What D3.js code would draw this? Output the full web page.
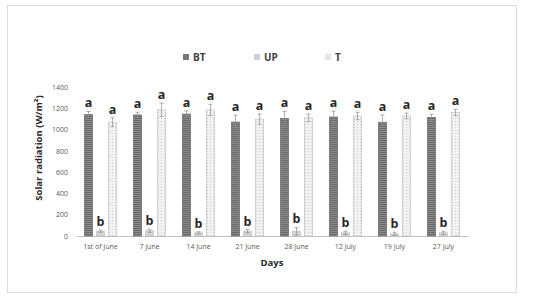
<!DOCTYPE html>
<html>
<head>
<meta charset="utf-8">
<script src="https://cdn.jsdelivr.net/npm/d3@7"></script>
<style>
  body { margin: 0; background: #fff; }
  svg text { font-family: "Open Sans", "Liberation Sans", sans-serif; }
</style>
</head>
<body>
<svg id="chart" width="550" height="299"></svg>
<script>
// chart data
var days = ['1st of June', '7 June', '14 June', '21 June', '28 June', '12 July', '19 July', '27 July'];
var seriesNames = ['BT', 'UP', 'T'];
var btValues = [1140, 1137, 1145, 1070, 1105, 1118, 1068, 1113];
var upValues = [45, 50, 30, 45, 45, 30, 20, 30];
var tValues = [1070, 1185, 1185, 1098, 1110, 1128, 1128, 1160];
var btErr = [30, 25, 30, 65, 65, 55, 70, 30];
var upErr = [10, 15, 10, 15, 35, 15, 15, 15];
var tErr = [40, 63, 53, 47, 35, 35, 27, 30];
var btLetters = ['a', 'a', 'a', 'a', 'a', 'a', 'a', 'a'];
var upLetters = ['b', 'b', 'b', 'b', 'b', 'b', 'b', 'b'];
var tLetters = ['a', 'a', 'a', 'a', 'a', 'a', 'a', 'a'];
var yTicks = [0, 200, 400, 600, 800, 1000, 1200, 1400];

(function () {
    var svg = d3.select('#chart');

    //Outer frame
    svg.append('rect')
        .attr('x', 7.5).attr('y', 5.5)
        .attr('width', 509).attr('height', 287)
        .attr('fill', '#fff')
        .attr('stroke', '#dcdcdc');

    //Fill patterns for the three series
    var defs = svg.append('defs');
    var pBT = defs.append('pattern')
        .attr('id', 'patBT').attr('patternUnits', 'userSpaceOnUse')
        .attr('width', 4).attr('height', 2);
    pBT.append('rect').attr('width', 4).attr('height', 2).attr('fill', '#8a8a8a');
    pBT.append('rect').attr('width', 4).attr('height', 1).attr('fill', '#6a6a6a');

    var pT = defs.append('pattern')
        .attr('id', 'patT').attr('patternUnits', 'userSpaceOnUse')
        .attr('width', 3).attr('height', 3);
    pT.append('rect').attr('width', 3).attr('height', 3).attr('fill', '#f2f2f2');
    pT.append('rect').attr('x', 1).attr('y', 1).attr('width', 1).attr('height', 1).attr('fill', '#d0d0d0');

    var fills = { BT: 'url(#patBT)', UP: '#d4d4d4', T: 'url(#patT)' };
    var strokes = { BT: '#707070', UP: '#c4c4c4', T: '#c8c8c8' };
    var legendFills = { BT: '#7a7a7a', UP: '#cfcfcf', T: '#e6e6e6' };

    var plotLeft = 76, plotRight = 468, plotTop = 87, plotBottom = 236;

    var x = d3.scaleBand().domain(days).range([plotLeft, plotRight]);
    var x1 = d3.scaleBand().domain(seriesNames).range([8, x.bandwidth() - 8]).paddingInner(0.25);
    var y = d3.scaleLinear().domain([0, 1400]).range([plotBottom, plotTop]);

    //Y axis labels only
    var yAxis = d3.axisLeft(y).tickValues(yTicks).tickSize(0).tickPadding(8).tickFormat(d3.format('d'));
    var gy = svg.append('g').attr('transform', 'translate(' + plotLeft + ',0)').call(yAxis);
    gy.select('.domain').remove();
    gy.selectAll('text').attr('fill', '#595959').style('font-size', '7px');

    //X axis
    var xAxis = d3.axisBottom(x).tickSize(0).tickPadding(8);
    var gx = svg.append('g').attr('transform', 'translate(0,' + plotBottom + ')').call(xAxis);
    gx.select('.domain').attr('stroke', '#bfbfbf');
    gx.selectAll('text').attr('fill', '#595959').style('font-size', '7px');

    var flat = [];
    days.forEach(function(d, i) {
        flat.push({ day: d, s: 'BT', v: btValues[i], e: btErr[i], l: btLetters[i] });
        flat.push({ day: d, s: 'UP', v: upValues[i], e: upErr[i], l: upLetters[i] });
        flat.push({ day: d, s: 'T', v: tValues[i], e: tErr[i], l: tLetters[i] });
    });

    var groups = svg.selectAll('.grp')
        .data(flat)
        .enter()
        .append('g')
        .attr('class', 'grp')
        .attr('transform', function(d) { return 'translate(' + (x(d.day) + x1(d.s)) + ',0)'; });

    var w = x1.bandwidth();
    groups.append('rect')
        .attr('x', 0.5)
        .attr('y', function(d) { return y(d.v); })
        .attr('width', w - 1)
        .attr('height', function(d) { return plotBottom - y(d.v); })
        .attr('fill', function(d) { return fills[d.s]; })
        .attr('stroke', function(d) { return strokes[d.s]; })
        .attr('stroke-width', 0.8);

    //Error bars
    groups.append('line')
        .attr('x1', w / 2).attr('x2', w / 2)
        .attr('y1', function(d) { return y(Math.max(0, d.v - d.e)); })
        .attr('y2', function(d) { return y(d.v + d.e); })
        .attr('stroke', '#8c8c8c').attr('stroke-width', 0.7);
    groups.append('line')
        .attr('x1', w / 2 - 2).attr('x2', w / 2 + 2)
        .attr('y1', function(d) { return y(d.v + d.e); })
        .attr('y2', function(d) { return y(d.v + d.e); })
        .attr('stroke', '#8c8c8c').attr('stroke-width', 0.7);
    groups.append('line')
        .attr('x1', w / 2 - 2).attr('x2', w / 2 + 2)
        .attr('y1', function(d) { return y(Math.max(0, d.v - d.e)); })
        .attr('y2', function(d) { return y(Math.max(0, d.v - d.e)); })
        .attr('stroke', '#8c8c8c').attr('stroke-width', 0.7);

    //Significance letters
    groups.append('text')
        .attr('x', w / 2)
        .attr('y', function(d) { return y(d.v + d.e) - 4; })
        .attr('text-anchor', 'middle')
        .attr('fill', '#262626')
        .style('font-size', '12.5px')
        .style('font-weight', 'bold')
        .text(function(d) { return d.l; });

    //Axis titles
    svg.append('text')
        .attr('transform', 'translate(39,148) rotate(-90)')
        .attr('text-anchor', 'middle')
        .attr('dy', '0.35em')
        .attr('fill', '#262626')
        .style('font-size', '9.5px')
        .style('font-weight', 'bold')
        .text('Solar radiation (W/m²)');

    svg.append('text')
        .attr('x', (plotLeft + plotRight) / 2).attr('y', 266)
        .attr('text-anchor', 'middle')
        .attr('fill', '#262626')
        .style('font-size', '9.5px')
        .style('font-weight', 'bold')
        .text('Days');

    //Legend
    var legendX = [183, 254, 325];
    var leg = svg.selectAll('.leg')
        .data(seriesNames)
        .enter()
        .append('g')
        .attr('class', 'leg')
        .attr('transform', function(d, i) { return 'translate(' + legendX[i] + ',54)'; });
    leg.append('rect')
        .attr('width', 6).attr('height', 6)
        .attr('fill', function(d) { return legendFills[d]; });
    leg.append('text')
        .attr('x', 10).attr('y', 6.5)
        .attr('fill', '#404040')
        .style('font-size', '10px')
        .style('font-weight', 'bold')
        .text(function(d) { return d; });
}());
</script>
</body>
</html>
